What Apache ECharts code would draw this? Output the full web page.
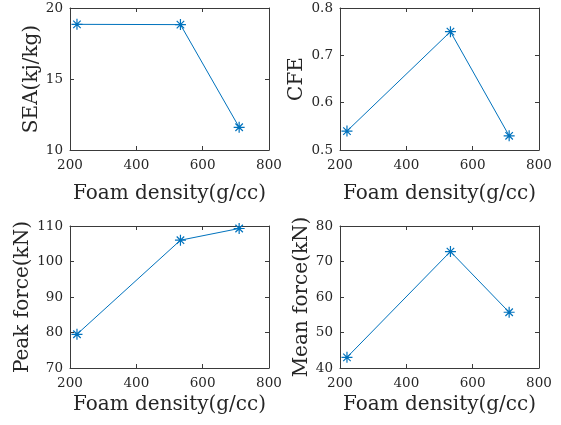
<!DOCTYPE html>
<html>
<head>
<meta charset="utf-8">
<script src="https://cdn.jsdelivr.net/npm/echarts@6/dist/echarts.min.js"></script>
<style>
html, body { margin: 0; padding: 0; background: #fff; }
#main { width: 561px; height: 425px; }
</style>
</head>
<body>
<div id="main"></div>
<script>
// foam density values (g/cc)
var density = [221, 533, 710];
var sea = [18.85, 18.83, 11.6];
var cfe = [0.54, 0.75, 0.53];
var peakForce = [79.5, 106, 109.3];
var meanForce = [43, 72.8, 55.7];

var xTicks = [200, 400, 600, 800];
var yTitles = ['SEA(kj/kg)', 'CFE', 'Peak force(kN)', 'Mean force(kN)'];
var yRanges = [[10, 20, 5], [0.5, 0.8, 0.1], [70, 110, 10], [40, 80, 10]];
var xTitle = 'Foam density(g/cc)';

var font = 'DejaVu Serif';
var axisCol = '#3a3a3a';
var lineCol = '#0072BD';
var star = 'path://M0,5L10,5M5,0L5,10M1.6,1.6L8.4,8.4M8.4,1.6L1.6,8.4';

var grids = [
    {left: 70, top: 8, width: 199, height: 142},
    {left: 340, top: 8, width: 199, height: 142},
    {left: 70, top: 226, width: 199, height: 142},
    {left: 340, top: 226, width: 199, height: 142}
];
var yGaps = [27, 33, 37, 28];
var xGaps = [34, 34, 27, 27];
var allData = [sea, cfe, peakForce, meanForce];

var xAxes = [], yAxes = [], series = [];
for (var i = 0; i < 4; i++) {
    var base = {
        gridIndex: i,
        type: 'value',
        axisLine: {show: true, lineStyle: {color: axisCol, width: 1}},
        axisTick: {show: true, inside: true, length: 4, lineStyle: {color: axisCol}},
        splitLine: {show: false}
    };
    xAxes.push(Object.assign({}, base, {
        position: 'bottom', min: 200, max: 800, interval: 200,
        name: xTitle, nameLocation: 'middle', nameGap: xGaps[i],
        nameTextStyle: {fontFamily: font, fontSize: 20, color: '#262626'},
        axisLabel: {fontFamily: font, fontSize: 13.5, color: '#262626', margin: 8}
    }));
    xAxes.push(Object.assign({}, base, {
        position: 'top', min: 200, max: 800, interval: 200,
        axisLabel: {show: false}
    }));
    var r = yRanges[i];
    yAxes.push(Object.assign({}, base, {
        position: 'left', min: r[0], max: r[1], interval: r[2],
        name: yTitles[i], nameLocation: 'middle', nameGap: yGaps[i],
        nameTextStyle: {fontFamily: font, fontSize: 20, color: '#262626'},
        axisLabel: {fontFamily: font, fontSize: 13.5, color: '#262626', margin: 7}
    }));
    yAxes.push(Object.assign({}, base, {
        position: 'right', min: r[0], max: r[1], interval: r[2],
        axisLabel: {show: false}
    }));
    var pts = [];
    for (var j = 0; j < density.length; j++) pts.push([density[j], allData[i][j]]);
    series.push({
        type: 'line',
        xAxisIndex: i * 2,
        yAxisIndex: i * 2,
        data: pts,
        symbol: star,
        symbolSize: 11,
        lineStyle: {color: lineCol, width: 1},
        itemStyle: {color: 'none', borderColor: lineCol, borderWidth: 1.2},
        animation: false
    });
}

var myChart = echarts.init(document.getElementById('main'));
myChart.setOption({
    backgroundColor: '#fff',
    grid: grids,
    xAxis: xAxes,
    yAxis: yAxes,
    series: series
});
</script>
</body>
</html>
